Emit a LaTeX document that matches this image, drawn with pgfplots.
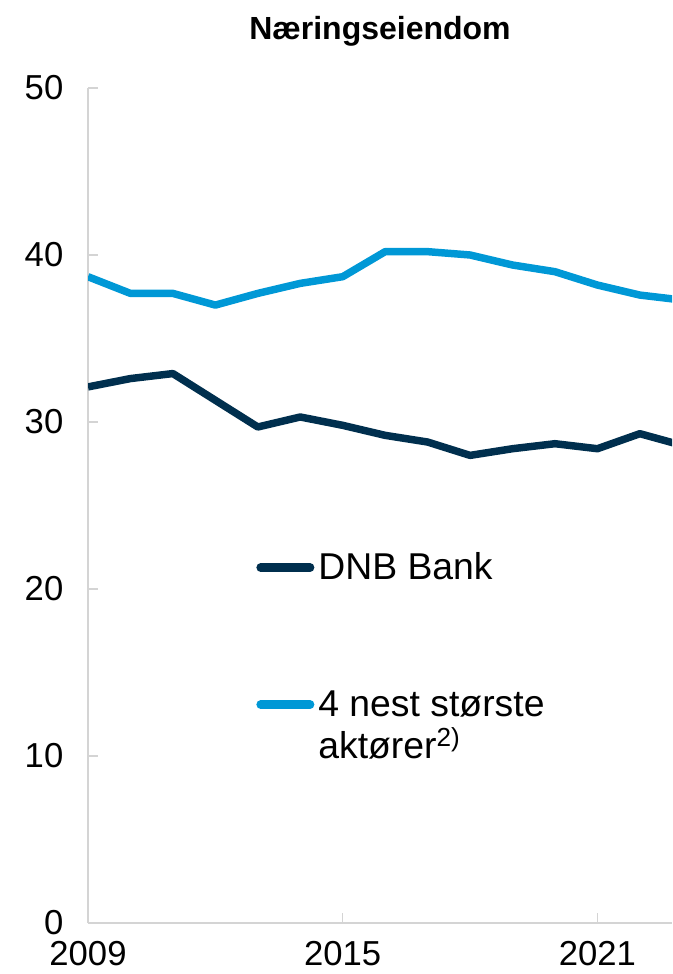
\documentclass[border=0pt]{standalone}
\usepackage{fontspec}
\setmainfont{Liberation Sans}
\usepackage{pgfplots}
\pgfplotsset{compat=1.18}

\definecolor{dnbdark}{HTML}{002F4E}
\definecolor{dnblight}{HTML}{0098D6}
\definecolor{axisgray}{HTML}{D4D4D4}

\begin{document}
\begin{tikzpicture}
\begin{axis}[
    scale only axis,
    width=438pt, height=626.25pt,
    xmin=2009, xmax=2022.757,
    ymin=0, ymax=50,
    axis lines*=left,
    axis line style={axisgray, line width=0.9pt},
    xtick={2009,2015,2021},
    ytick={0,10,20,30,40,50},
    xticklabels={2009,2015,2021},
    tick align=inside,
    major tick length=7.5pt,
    tick style={axisgray, line width=0.9pt},
    /pgf/number format/assume math mode=true,
    ticklabel style={font=\fontsize{26}{30}\selectfont},
    yticklabel style={xshift=-15pt},
    xticklabel style={inner sep=0pt, yshift=-13.5pt},
    title={\bfseries Næringseiendom},
    title style={font=\fontsize{24}{28}\selectfont, yshift=22pt},
    legend style={at={(axis cs:2012.96,22.2)}, anchor=north west, draw=none, fill=none,
        inner sep=0pt, row sep=82pt, column sep=3pt,
        font=\fontsize{28}{31.5}\selectfont,
        nodes={inner sep=0pt}, cells={anchor=base west}},
    legend image code/.code={\draw[#1, line width=6.5pt, line cap=round] (3pt,9pt) -- (40pt,9pt);},
]
\addplot[dnbdark, line width=5.6pt, line join=round] coordinates {
(2009,32.1) (2010,32.6) (2011,32.9) (2012,31.3) (2013,29.7) (2014,30.3) (2015,29.8)
(2016,29.2) (2017,28.8) (2018,28.0) (2019,28.4) (2020,28.7) (2021,28.4) (2022,29.3) (2023,28.6)};
\addlegendentry{DNB Bank}
\addplot[dnblight, line width=5.6pt, line join=round] coordinates {
(2009,38.7) (2010,37.7) (2011,37.7) (2012,37.0) (2013,37.7) (2014,38.3) (2015,38.7)
(2016,40.2) (2017,40.2) (2018,40.0) (2019,39.4) (2020,39.0) (2021,38.2) (2022,37.6) (2023,37.3)};
\addlegendentry{\vtop{\baselineskip=31.5pt\hbox{4 nest største}\hbox{aktører\textsuperscript{2)}}}}
\end{axis}
\pgfresetboundingbox
\path (current axis.south west) ++(-66pt,-38.25pt) coordinate (bbsw);
\path (current axis.north east) ++(0pt,66pt) coordinate (bbne);
\useasboundingbox (bbsw) rectangle (bbne);
\end{tikzpicture}
\end{document}
